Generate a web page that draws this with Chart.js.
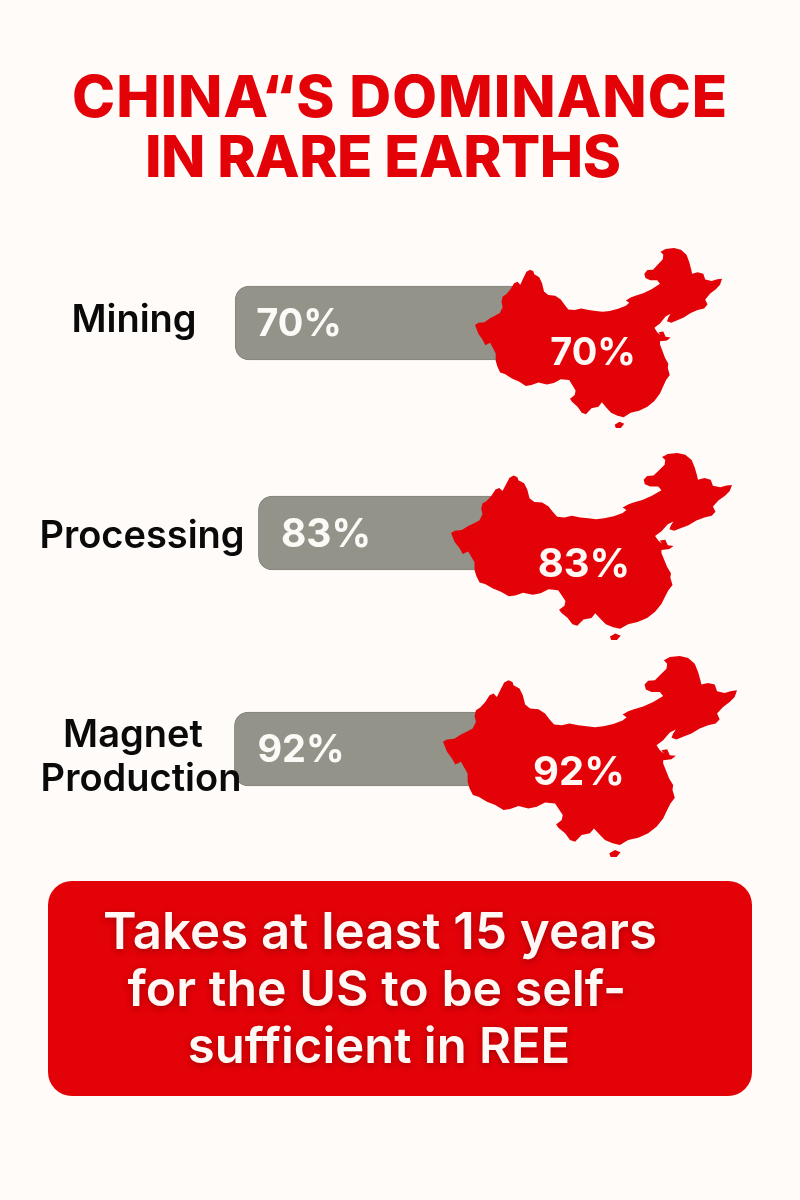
<!DOCTYPE html>
<html lang="en">
<head>
    <meta charset="UTF-8">
    <title>China's Dominance in Rare Earths</title>
    <script src="https://cdn.jsdelivr.net/npm/chart.js"></script>
    <style>
        html, body { margin: 0; padding: 0; background: #fefbf8; overflow: hidden; }
        #wrap { position: relative; width: 800px; height: 1200px; font-family: Inter, sans-serif; }
        canvas { position: absolute; left: 0; top: 0; }
        .title {
            position: absolute;
            color: #e30208;
            font-weight: 800;
            font-size: 58px;
            line-height: 60px;
            white-space: nowrap;
            letter-spacing: -0.5px;
        }
        #note {
            position: absolute;
            left: 48px; top: 881px;
            width: 704px; height: 215px;
            border-radius: 24px;
            background: #e30208;
        }
        .note-line {
            position: absolute;
            color: #fff8f5;
            font-weight: 600;
            font-size: 50px;
            line-height: 56px;
            white-space: nowrap;
            transform: translateX(-50%);
            text-shadow: 0 2px 6px rgba(90, 0, 0, 0.45);
        }
    </style>
</head>
<body>
<div id="wrap">
    <canvas id="chart" width="800" height="1200"></canvas>
    <div class="title" style="left:72px;top:66px;letter-spacing:1px">CHINA“S DOMINANCE</div>
    <div class="title" style="left:145px;top:126px">IN RARE EARTHS</div>
    <div id="note">
        <div class="note-line" style="left:332px;top:22px;font-size:51px">Takes at least 15 years</div>
        <div class="note-line" style="left:329px;top:79px">for the US to be self-</div>
        <div class="note-line" style="left:331px;top:137px;font-size:49px">sufficient in REE</div>
    </div>
</div>

<script>
    // Values
    const categories = ['Mining', 'Processing', 'Magnet Production'];
    const shares = [70, 83, 92];
    // Visible extent of each grey bar on a 0-100 track across the page
    const barFrom = [29.4, 32.3, 29.3];
    const barTo = [66, 64, 62];

    const red = '#e30208';

    // Outline of the map
    const mapOutline = [
        [38,290],[50,283],[72,281],[92,268],[112,258],[127,250],[137,230],[133,212],[137,195],[150,187],
        [165,170],[178,150],[190,145],[200,155],[210,135],[222,112],[235,105],[247,110],[250,120],[268,130],
        [278,150],[285,178],[300,190],[325,192],[345,205],[358,222],[372,238],[395,240],[418,235],[445,240],
        [470,243],[495,246],[520,243],[550,236],[578,226],[590,216],[578,208],[595,198],[612,192],[640,184],
        [670,170],[700,152],[690,140],[665,140],[648,133],[644,118],[655,106],[675,105],[690,90],[710,70],
        [712,55],[702,45],[720,35],[750,32],[775,38],[795,55],[805,80],[812,105],[815,118],[835,113],
        [855,118],[862,138],[885,143],[905,137],[922,135],[915,155],[900,170],[880,185],[862,205],[870,222],
        [858,235],[835,240],[810,250],[785,265],[760,275],[740,283],[725,278],[730,265],[738,253],[720,262],
        [700,285],[680,300],[690,315],[702,325],[695,315],[712,312],[720,330],[738,332],[725,342],[700,345],
        [700,355],[710,380],[718,400],[730,420],[728,435],[735,458],[722,475],[712,495],[700,520],[680,545],
        [655,565],[625,578],[595,585],[570,600],[548,595],[525,585],[510,570],[492,550],[480,565],[455,570],
        [435,590],[420,585],[405,565],[385,548],[378,538],[395,525],[398,510],[385,490],[375,475],[345,472],
        [320,485],[295,490],[265,483],[240,492],[220,495],[195,480],[170,470],[145,455],[128,450],[118,430],
        [112,410],[112,385],[92,350],[75,358],[65,340],[50,320]
    ];
    const hainan = [[538,625],[555,615],[572,622],[560,636],[542,636]];

    // Page placement of each row's extras
    const mapBoxes = [
        { left: 475, right: 722, top: 248, bottom: 428 },
        { left: 451, right: 732, top: 453, bottom: 640 },
        { left: 443, right: 737, top: 656, bottom: 857 }
    ];
    const rowNudge = [0, -3, 0];
    const rowLabels = [
        { lines: ['Mining'], x: [134], y: [321] },
        { lines: ['Processing'], x: [142], y: [537] },
        { lines: ['Magnet', 'Production'], x: [133, 141], y: [736, 780] }
    ];
    const barLabels = [
        { x: 299, dy: 2, size: 38 },
        { x: 326, dy: 2, size: 39 },
        { x: 301, dy: 2, size: 38 }
    ];
    const mapLabels = [
        { x: 593, y: 354, size: 38 },
        { x: 584, y: 565, size: 40 },
        { x: 579, y: 773, size: 40 }
    ];

    function traceShape(ctx, pts, box) {
        const sx = (box.right - box.left) / (922 - 38);
        const sy = (box.bottom - box.top) / (636 - 32);
        pts.forEach((p, i) => {
            const x = box.left + (p[0] - 38) * sx;
            const y = box.top + (p[1] - 32) * sy;
            if (i === 0) ctx.moveTo(x, y); else ctx.lineTo(x, y);
        });
        ctx.closePath();
    }

    const rowExtras = {
        id: 'rowExtras',
        afterDatasetsUpdate(chart) {
            chart.getDatasetMeta(0).data.forEach((bar, i) => { bar.y += rowNudge[i]; });
        },
        afterDatasetsDraw(chart) {
            const ctx = chart.ctx;
            const bars = chart.getDatasetMeta(0).data;
            ctx.save();
            ctx.textAlign = 'center';
            ctx.textBaseline = 'middle';

            // row names
            ctx.fillStyle = '#0a0a0a';
            ctx.font = '600 38px Inter, sans-serif';
            rowLabels.forEach(label => {
                label.lines.forEach((line, j) => ctx.fillText(line, label.x[j], label.y[j]));
            });

            shares.forEach((share, i) => {
                // value on the bar
                ctx.fillStyle = '#fbfaf6';
                ctx.font = '700 ' + barLabels[i].size + 'px Inter, sans-serif';
                ctx.fillText(share + '%', barLabels[i].x, bars[i].y + barLabels[i].dy);

                // map on top of the bar end
                ctx.fillStyle = red;
                ctx.beginPath();
                traceShape(ctx, mapOutline, mapBoxes[i]);
                traceShape(ctx, hainan, mapBoxes[i]);
                ctx.fill();

                // value on the map
                ctx.fillStyle = '#fff8f5';
                ctx.font = '700 ' + mapLabels[i].size + 'px Inter, sans-serif';
                ctx.fillText(share + '%', mapLabels[i].x, mapLabels[i].y);
            });
            ctx.restore();
        }
    };

    new Chart(document.getElementById('chart'), {
        type: 'bar',
        data: {
            labels: categories,
            datasets: [{
                data: barFrom.map((from, i) => [from, barTo[i]]),
                backgroundColor: '#93938a',
                borderColor: '#85857c',
                borderWidth: 1,
                borderSkipped: false,
                borderRadius: 14,
                barThickness: 74
            }]
        },
        options: {
            indexAxis: 'y',
            responsive: false,
            animation: false,
            devicePixelRatio: 1,
            layout: { padding: { top: 216.5, bottom: 344.5, left: 0, right: 0 } },
            plugins: { legend: { display: false }, tooltip: { enabled: false } },
            scales: {
                x: { min: 0, max: 100, display: false },
                y: { display: false }
            }
        },
        plugins: [rowExtras]
    });
</script>
</body>
</html>
